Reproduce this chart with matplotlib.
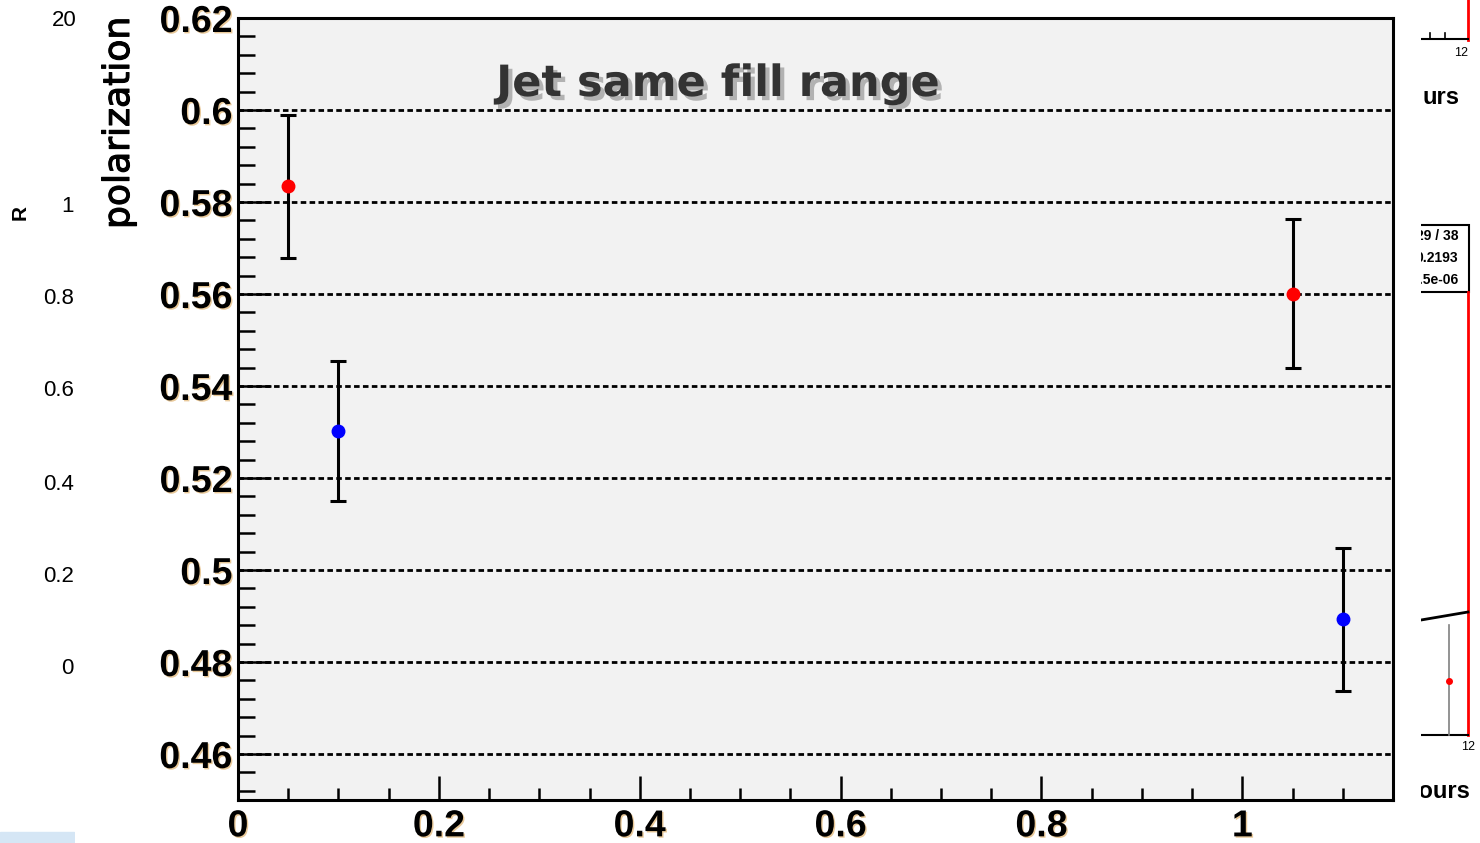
import matplotlib
matplotlib.use("Agg")
import matplotlib.pyplot as plt
import matplotlib.patheffects as pe
from matplotlib.ticker import MultipleLocator

# data
x_red = [0.05, 1.05]
y_red = [0.5834, 0.5601]
err_red = [0.0156, 0.0161]

x_blue = [0.10, 1.10]
y_blue = [0.5302, 0.4893]
err_blue = [0.0152, 0.0155]

y_ticks = [0.46, 0.48, 0.50, 0.52, 0.54, 0.56, 0.58, 0.60, 0.62]
y_tick_labels = ["0.46", "0.48", "0.5", "0.52", "0.54", "0.56", "0.58", "0.6", "0.62"]
x_ticks = [0, 0.2, 0.4, 0.6, 0.8, 1.0]
x_tick_labels = ["0", "0.2", "0.4", "0.6", "0.8", "1"]

# leftovers of the neighbouring plot in the screenshot
left_vals = ["20", "1", "0.8", "0.6", "0.4", "0.2", "0"]
left_ypix = [20, 207, 298, 390, 484, 577, 669]
right_box = ["29 / 38", "0.2193", "1.5e-06"]

W, H = 1480, 843
fig = plt.figure(figsize=(W / 100, H / 100), dpi=100)
fig.patch.set_facecolor("white")

ax = fig.add_axes([238 / W, 1 - 800 / H, (1393 - 238) / W, (800 - 18) / H])
ax.set_facecolor("#f2f2f2")

ax.errorbar(x_red, y_red, yerr=err_red, fmt="o", color="red", ecolor="black",
            elinewidth=2.2, capsize=6, capthick=2.2, markersize=9, zorder=3)
ax.errorbar(x_blue, y_blue, yerr=err_blue, fmt="o", color="blue", ecolor="black",
            elinewidth=2.2, capsize=6, capthick=2.2, markersize=9, zorder=3)

ax.set_xlim(0, 1.15)
ax.set_ylim(0.45, 0.62)
ax.set_yticks(y_ticks)
ax.set_yticklabels(y_tick_labels)
ax.set_xticks(x_ticks)
ax.set_xticklabels(x_tick_labels)
ax.yaxis.set_minor_locator(MultipleLocator(0.004))
ax.xaxis.set_minor_locator(MultipleLocator(0.05))

tick_font = dict(family="Liberation Sans", weight="bold", size=27)
for lab in ax.get_xticklabels() + ax.get_yticklabels():
    lab.set_fontproperties(matplotlib.font_manager.FontProperties(**tick_font))
    lab.set_path_effects([pe.withSimplePatchShadow(offset=(1, -1), shadow_rgbFace="#c87800", alpha=0.4)])

ax.tick_params(axis="y", which="major", direction="in", length=24, width=1.8, pad=4)
ax.tick_params(axis="y", which="minor", direction="in", length=12, width=1.8)
ax.tick_params(axis="x", which="major", direction="in", length=17, width=1.8, pad=6)
ax.tick_params(axis="x", which="minor", direction="in", length=9, width=1.8)
ax.tick_params(top=False, right=False, which="both")

ax.grid(axis="y", which="major", color="black", linestyle=(0, (2, 1.2)), linewidth=2)
ax.set_axisbelow(True)
for sp in ax.spines.values():
    sp.set_linewidth(2.2)

ax.text(0.4156, 0.9156, "Jet same fill range", transform=ax.transAxes, ha="center", va="center",
        fontsize=31, fontweight="bold", color="#333333", family="DejaVu Sans",
        path_effects=[pe.withSimplePatchShadow(offset=(3, -3), shadow_rgbFace="#888888", alpha=0.6)])

fig.text(119 / W, 1 - 123 / H, "polarization", rotation=90, ha="center", va="center",
         fontsize=26, family="DejaVu Sans",
         path_effects=[pe.withStroke(linewidth=0.8, foreground="black")])

# left strip
lax = fig.add_axes([0, 0, 75 / W, 1])
lax.set_xlim(0, 75)
lax.set_ylim(H, 0)
lax.axis("off")
for v, yp in zip(left_vals, left_ypix):
    xr = 77 if v == "20" else 74
    lax.text(xr, yp, v, ha="right", va="center", fontsize=16, family="Liberation Sans", clip_on=True)
lax.text(20, 212, "R", rotation=90, ha="center", va="center", fontsize=15,
         fontweight="bold", family="Liberation Sans", clip_on=True)
lax.add_patch(plt.Rectangle((0, 832), 74, 11, color="#d5e6f5", clip_on=True))

# right strip
rax = fig.add_axes([1421 / W, 0, (W - 1421) / W, 1])
rax.set_xlim(1421, W)
rax.set_ylim(H, 0)
rax.axis("off")
rax.plot([1468, 1468], [0, 40], color="red", lw=2)
rax.plot([1421, 1468], [39, 39], color="black", lw=1.5)
rax.plot([1430, 1430], [33, 39], color="black", lw=1.2)
rax.plot([1445, 1445], [33, 39], color="black", lw=1.2)
rax.plot([1468, 1468], [292, 735], color="red", lw=2)
rax.plot([1421, 1468], [735, 735], color="black", lw=1.5)
rax.plot([1421, 1468], [620, 612], color="black", lw=2)
rax.plot([1449, 1449], [625, 735], color="gray", lw=1.2)
rax.plot([1449], [681], "o", color="red", markersize=4)
rax.add_patch(plt.Rectangle((1400, 225), 69, 67, facecolor="white", edgecolor="black", lw=1.5))
for i, s in enumerate(right_box):
    rax.text(1458, 236 + i * 22, s, ha="right", va="center", fontsize=10,
             fontweight="bold", family="Liberation Sans", clip_on=True)
rax.text(1461, 53, "12", ha="center", va="center", fontsize=9, family="Liberation Sans")
rax.text(1468, 747, "12", ha="center", va="center", fontsize=9, family="Liberation Sans")
rax.text(1422, 97, "urs", ha="left", va="center", fontsize=17, fontweight="bold",
         family="Liberation Sans", clip_on=True)
rax.text(1470, 791, "hours", ha="right", va="center", fontsize=17, fontweight="bold",
         family="Liberation Sans", clip_on=True)

fig.savefig("out.png", dpi=100)
